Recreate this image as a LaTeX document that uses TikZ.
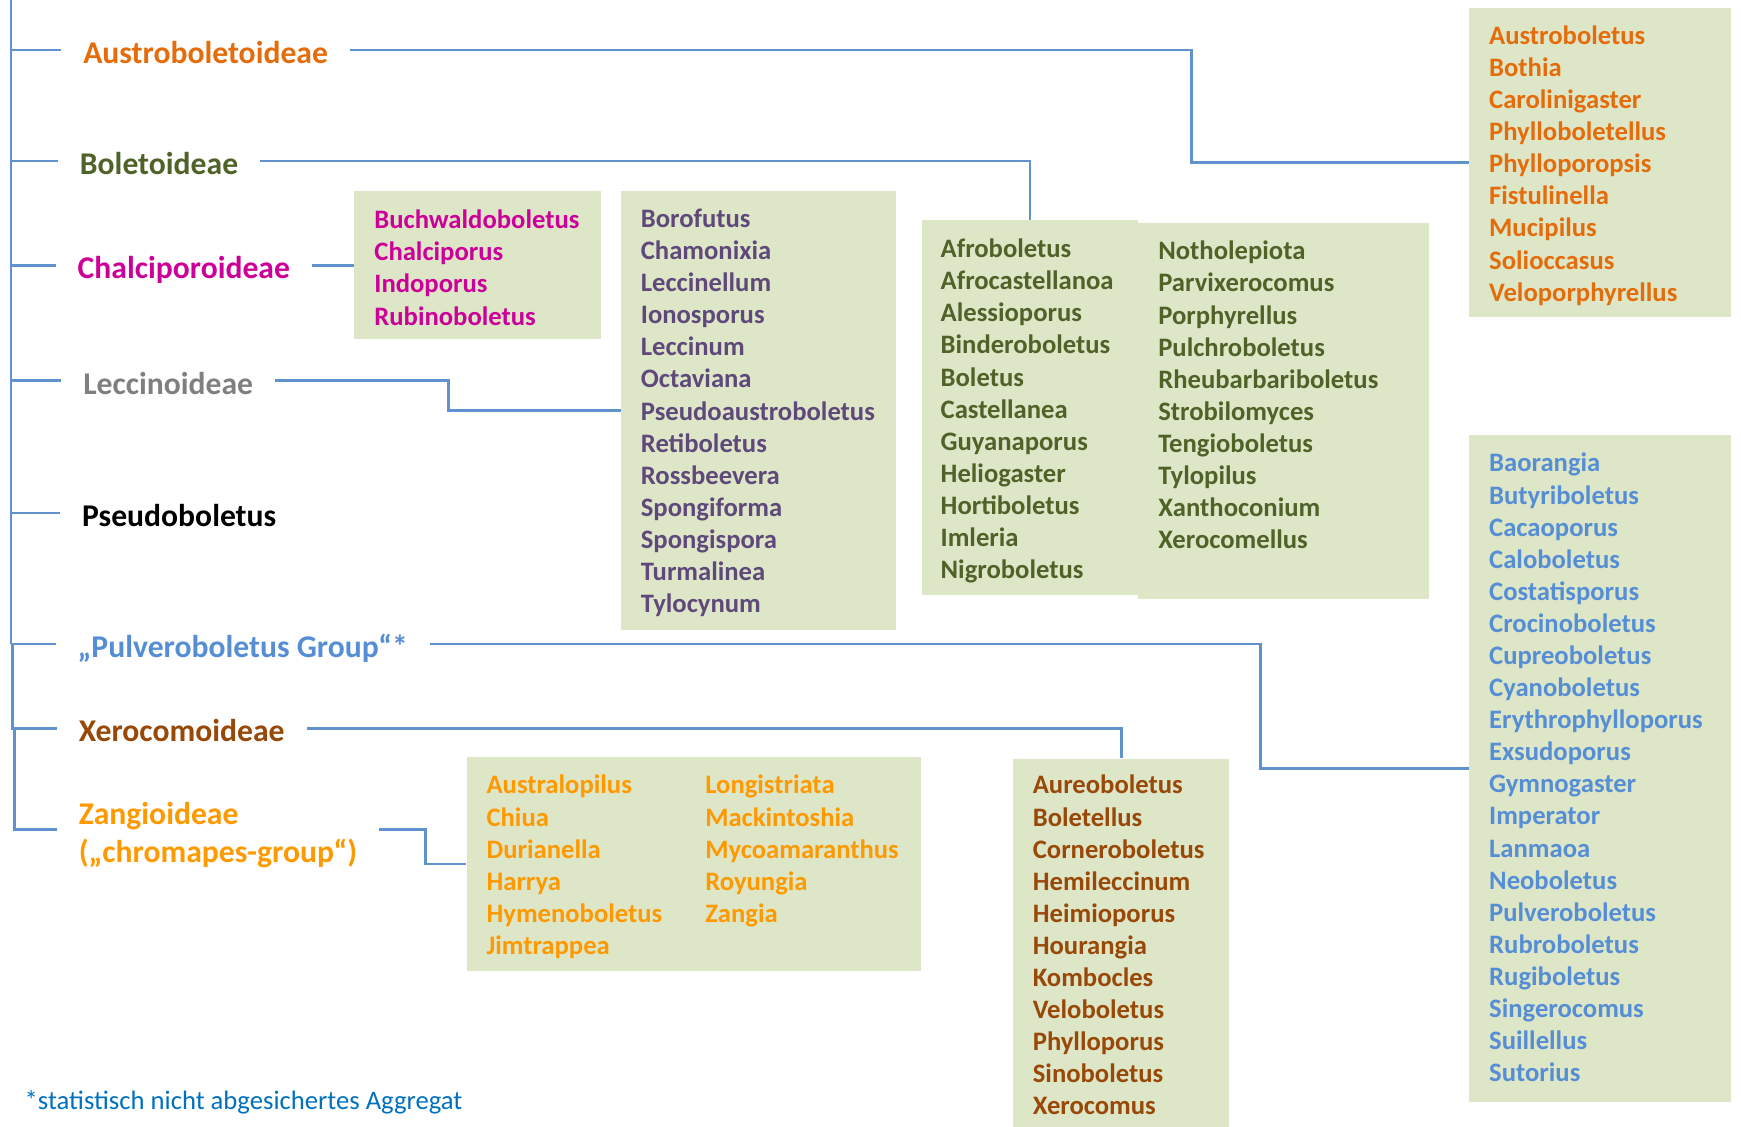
\documentclass[tikz,border=0pt]{standalone}
\usepackage{fontspec}
\setmainfont{Carlito}
\usetikzlibrary{positioning}

\definecolor{linkblue}{RGB}{96,146,206}
\definecolor{boxgreen}{RGB}{222,230,200}
\definecolor{austroorange}{RGB}{228,108,10}
\definecolor{boletogreen}{RGB}{79,98,40}
\definecolor{chalcimagenta}{RGB}{204,0,153}
\definecolor{leccgray}{RGB}{127,127,127}
\definecolor{leccpurple}{RGB}{95,73,122}
\definecolor{pulvblue}{RGB}{85,142,213}
\definecolor{xerobrown}{RGB}{152,72,7}
\definecolor{zangorange}{RGB}{255,153,0}
\definecolor{noteblue}{RGB}{0,112,192}

\tikzset{
  link/.style={draw=linkblue, line width=2.5pt},
  cladebase/.style={anchor=west, inner sep=0pt, outer xsep=20pt,
    font=\bfseries\fontsize{28.5}{34}\selectfont},
  clade/.style={cladebase, text height=25.6pt, text depth=1.5pt},
  genbox/.style={fill=boxgreen, anchor=north west, inner sep=0pt},
  genera/.style={anchor=north west, inner sep=0pt, align=left,
    font=\bfseries\fontsize{24}{28.9}\selectfont, execute at begin node=\strut}
}

\begin{document}
\begin{tikzpicture}[x=1pt, y=-1pt]
\useasboundingbox (0,0) rectangle (1568,1015);

\node[clade, text=austroorange] (austro) at (55,45) {Austroboletoideae};
\node[clade, text=boletogreen] (boleto) at (52,145) {Boletoideae};
\node[clade, text=chalcimagenta] (chalci) at (50,239) {Chalciporoideae};
\node[clade, text=leccgray] (leccino) at (55,343) {Leccinoideae};
\node[clade, text=black] (pseudo) at (54,462) {Pseudoboletus};
\node[clade, text=pulvblue] (pulvero) at (50,580) {„Pulveroboletus Group“*};
\node[clade, text=xerobrown] (xerocom) at (51,656) {Xerocomoideae};
\node[cladebase, align=left, text height=64pt, text=zangorange] (zangio) at (51,747) {Zangioideae\\(„chromapes-group“)};

\node[genbox, minimum width=236pt, minimum height=278pt] (austrobox) at (1323,7) {};
\node[genbox, minimum width=222pt, minimum height=133pt] (chalcibox) at (319,172) {};
\node[genbox, minimum width=248pt, minimum height=395pt] (leccbox) at (559,172) {};
\node[genbox, minimum width=195pt, minimum height=338pt] (bolleft) at (830,198) {};
\node[genbox, minimum width=262pt, minimum height=338pt] (bolright) at (1025,201) {};
\node[genbox, minimum width=236pt, minimum height=600pt] (pulvbox) at (1323,392) {};
\node[genbox, minimum width=195pt, minimum height=332pt] (xerobox) at (912,683) {};
\node[genbox, minimum width=409pt, minimum height=192pt] (zangbox) at (420,682) {};

\node[genera, text=austroorange, below right=16pt and 18pt of austrobox.north west] (austrolist)
  {Austroboletus\\Bothia\\Carolinigaster\\Phylloboletellus\\Phylloporopsis\\Fistulinella\\Mucipilus\\Solioccasus\\Veloporphyrellus};
\node[genera, text=chalcimagenta, below right=17pt and 18pt of chalcibox.north west] (chalcilist)
  {Buchwaldoboletus\\Chalciporus\\Indoporus\\Rubinoboletus};
\node[genera, text=leccpurple, below right=16pt and 18pt of leccbox.north west] (lecclist)
  {Borofutus\\Chamonixia\\Leccinellum\\Ionosporus\\Leccinum\\Octaviana\\Pseudoaustroboletus\\Retiboletus\\Rossbeevera\\Spongiforma\\Spongispora\\Turmalinea\\Tylocynum};
\node[genera, text=boletogreen, below right=17pt and 17pt of bolleft.north west] (bolleftlist)
  {Afroboletus\\Afrocastellanoa\\Alessioporus\\Binderoboletus\\Boletus\\Castellanea\\Guyanaporus\\Heliogaster\\Hortiboletus\\Imleria\\Nigroboletus};
\node[genera, text=boletogreen, below right=16pt and 18pt of bolright.north west] (bolrightlist)
  {Notholepiota\\Parvixerocomus\\Porphyrellus\\Pulchroboletus\\Rheubarbariboletus\\Strobilomyces\\Tengioboletus\\Tylopilus\\Xanthoconium\\Xerocomellus};
\node[genera, text=pulvblue, below right=16pt and 18pt of pulvbox.north west] (pulvlist)
  {Baorangia\\Butyriboletus\\Cacaoporus\\Caloboletus\\Costatisporus\\Crocinoboletus\\Cupreoboletus\\Cyanoboletus\\Erythrophylloporus\\Exsudoporus\\Gymnogaster\\Imperator\\Lanmaoa\\Neoboletus\\Pulveroboletus\\Rubroboletus\\Rugiboletus\\Singerocomus\\Suillellus\\Sutorius};
\node[genera, text=xerobrown, below right=15pt and 18pt of xerobox.north west] (xerolist)
  {Aureoboletus\\Boletellus\\Corneroboletus\\Hemileccinum\\Heimioporus\\Hourangia\\Kombocles\\Veloboletus\\Phylloporus\\Sinoboletus\\Xerocomus};
\node[genera, text=zangorange, below right=16pt and 18pt of zangbox.north west] (zangleft)
  {Australopilus\\Chiua\\Durianella\\Harrya\\Hymenoboletus\\Jimtrappea};
\node[genera, text=zangorange, below right=16pt and 215pt of zangbox.north west] (zangright)
  {Longistriata\\Mackintoshia\\Mycoamaranthus\\Royungia\\Zangia};

\node[anchor=west, inner sep=0pt, text=noteblue, font=\fontsize{24}{28}\selectfont] (note) at (22,993)
  {*statistisch nicht abgesichertes Aggregat};

\coordinate (root) at (10,0);
\draw[link] (root) -- (root |- pulvero.west);
\foreach \c in {austro,boleto,chalci,leccino,pseudo,pulvero}
  \draw[link] (root |- \c.west) -- (\c.west);
\draw[link] ([xshift=1pt]root |- pulvero.west) |- (xerocom.west);
\draw[link] ([xshift=3pt]root |- xerocom.west) |- (zangio.west);

\draw[link] (austro.east) -| ([xshift=-250pt]austrobox.west) -- (austrobox.west);
\draw[link] (boleto.east) -| (bolleft.north);
\draw[link] (chalci.east) -- (chalci.east -| chalcibox.west);
\draw[link] (leccino.east) -| ([xshift=-155pt]leccbox.west) -- (leccbox.west);
\draw[link] (pulvero.east) -| ([xshift=-188pt]pulvbox.west) -- (pulvbox.west);
\draw[link] (xerocom.east) -| (xerobox.north);
\draw[link] (zangio.east) -| ([xshift=-37pt]zangbox.west) -- (zangbox.west);
\end{tikzpicture}
\end{document}
